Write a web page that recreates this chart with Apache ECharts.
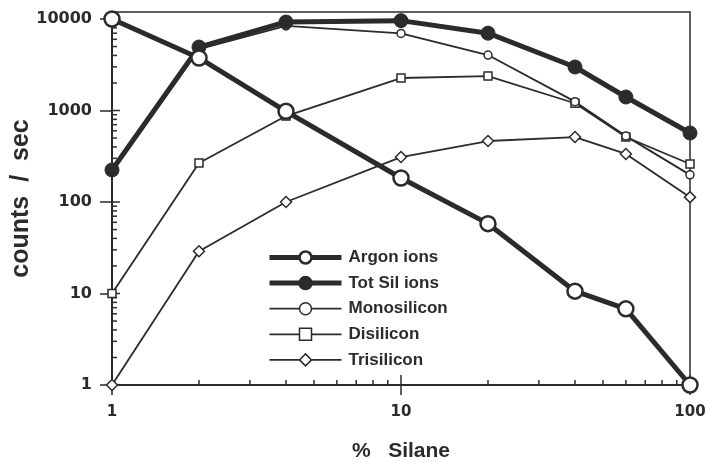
<!DOCTYPE html>
<html>
<head>
<meta charset="utf-8">
<script src="https://cdn.jsdelivr.net/npm/echarts@6/dist/echarts.min.js"></script>
<style>
html,body{margin:0;padding:0;background:#fff;}
#chart{width:705px;height:463px;}
</style>
</head>
<body>
<div id="chart"></div>
<script>
// ---- data ----
const silanePct = [1, 2, 4, 10, 20, 40, 60, 100];
const argonIons = [10000, 3750, 980, 183, 58, 10.6, 6.8, 1];
const totSilIons = [224, 4940, 9270, 9600, 7000, 2990, 1405, 568];
const monosilicon = [215, 4700, 8400, 6950, 4040, 1250, 525, 198];
const disilicon = [10, 267, 870, 2265, 2380, 1200, 513, 260];
const trisilicon = [1, 29, 100, 310, 464, 513, 335, 113];

const seriesNames = ['Argon ions', 'Tot Sil ions', 'Monosilicon', 'Disilicon', 'Trisilicon'];

const xTickLabels = [1, 10, 100];
const yTickLabels = [1, 10, 100, 1000, 10000];
const xMinorTicks = [2,3,4,5,6,7,8,9,20,30,40,50,60,70,80,90];
const yMinorTicks = [2,3,4,5,6,7,8,9,20,30,40,50,60,70,80,90,200,300,400,500,600,700,800,900,2000,3000,4000,5000,6000,7000,8000,9000];

const ink = '#2b2b2b';
const pair = (ys) => silanePct.map((x, i) => [x, ys[i]]);

// tick data for the inward tick marks (kind: 0 y-minor, 1 y-major, 2 x-minor, 3 x-major)
const tickData = []
  .concat(yMinorTicks.map(v => [1, v, 0]))
  .concat(yTickLabels.map(v => [1, v, 1]))
  .concat(xMinorTicks.map(v => [v, 1, 2]))
  .concat(xTickLabels.map(v => [v, 1, 3]));

const thick = {'Argon ions': true, 'Tot Sil ions': true};
const filled = {'Tot Sil ions': true};

const chart = echarts.init(document.getElementById('chart'), null, {renderer: 'canvas'});

const option = {
  backgroundColor: '#fff',
  animation: false,
  grid: {
    left: 112, right: 15, top: 12, bottom: 78,
    containLabel: false, outerBoundsMode: 'none',
    show: true, borderColor: ink, borderWidth: 1.5, backgroundColor: 'transparent'
  },
  legend: {
    data: seriesNames.map(n => ({
      name: n,
      lineStyle: {width: thick[n] ? 5 : 1.8, color: ink},
      itemStyle: {color: filled[n] ? ink : '#fff', borderColor: ink, borderWidth: thick[n] ? 2.5 : 1.5}
    })),
    orient: 'vertical',
    left: 262, top: 244,
    itemWidth: 72, itemHeight: 15, itemGap: 8.6,
    textStyle: {fontFamily: 'Liberation Sans', fontWeight: 'bold', fontSize: 17, color: ink, padding: [0,0,0,2]},
    inactiveColor: '#ccc'
  },
  xAxis: {
    type: 'log', logBase: 10, min: 1, max: 100,
    name: '%   Silane', nameLocation: 'middle', nameGap: 56, nameMoveOverlap: false,
    nameTextStyle: {fontFamily: 'Liberation Sans', fontWeight: 'bold', fontSize: 21, color: ink},
    axisLine: {lineStyle: {color: ink, width: 2}},
    axisTick: {show: true, length: 10, lineStyle: {color: ink, width: 1.5}, customValues: xTickLabels},
    axisLabel: {customValues: xTickLabels, margin: 20, fontFamily: 'DejaVu Sans', fontWeight: 'bold', fontSize: 15, color: ink,
      formatter: v => String(Math.round(v))},
    splitLine: {show: false}, minorTick: {show: false}
  },
  yAxis: {
    type: 'log', logBase: 10, min: 1, max: 11930,
    name: 'counts  /  sec', nameLocation: 'middle', nameGap: 78, nameRotate: 90, nameMoveOverlap: false,
    nameTextStyle: {fontFamily: 'Liberation Sans', fontWeight: 'bold', fontSize: 25, color: ink},
    axisLine: {lineStyle: {color: ink, width: 2}},
    axisTick: {show: true, length: 12, lineStyle: {color: ink, width: 1.5}, customValues: yTickLabels},
    axisLabel: {customValues: yTickLabels, margin: 20, fontFamily: 'DejaVu Sans', fontWeight: 'bold', fontSize: 16, color: ink,
      formatter: v => String(Math.round(v))},
    splitLine: {show: false}, minorTick: {show: false}
  },
  series: [
    {
      name: 'ticks', type: 'custom', silent: true, clip: false, z: 1,
      data: tickData,
      renderItem: function (params, api) {
        const p = api.coord([api.value(0), api.value(1)]);
        const kind = api.value(2);
        let x2 = p[0], y2 = p[1];
        if (kind === 0) x2 = p[0] + 5;
        else if (kind === 1) x2 = p[0] + 8;
        else if (kind === 2) y2 = p[1] - 5;
        else y2 = p[1] - 10;
        return {type: 'line', shape: {x1: p[0], y1: p[1], x2: x2, y2: y2},
          style: {stroke: ink, lineWidth: 1.5}};
      }
    },
    {
      name: 'Trisilicon', type: 'line', data: pair(trisilicon), z: 3,
      symbol: 'diamond', symbolSize: [11, 11], showAllSymbol: true,
      lineStyle: {color: ink, width: 1.8},
      itemStyle: {color: '#fff', borderColor: ink, borderWidth: 1.5}
    },
    {
      name: 'Disilicon', type: 'line', data: pair(disilicon), z: 3,
      symbol: 'rect', symbolSize: 8, showAllSymbol: true,
      lineStyle: {color: ink, width: 1.8},
      itemStyle: {color: '#fff', borderColor: ink, borderWidth: 1.5}
    },
    {
      name: 'Monosilicon', type: 'line', data: pair(monosilicon), z: 3,
      symbol: 'circle', symbolSize: 8, showAllSymbol: true,
      lineStyle: {color: ink, width: 1.8},
      itemStyle: {color: '#fff', borderColor: ink, borderWidth: 1.5}
    },
    {
      name: 'Tot Sil ions', type: 'line', data: pair(totSilIons), z: 4,
      symbol: 'circle', symbolSize: 14, showAllSymbol: true,
      lineStyle: {color: ink, width: 5},
      itemStyle: {color: ink, borderColor: ink, borderWidth: 1}
    },
    {
      name: 'Argon ions', type: 'line', data: pair(argonIons), z: 5,
      symbol: 'circle', symbolSize: 15, showAllSymbol: true,
      lineStyle: {color: ink, width: 5},
      itemStyle: {color: '#fff', borderColor: ink, borderWidth: 2.5}
    }
  ]
};
chart.setOption(option);
</script>
</body>
</html>
